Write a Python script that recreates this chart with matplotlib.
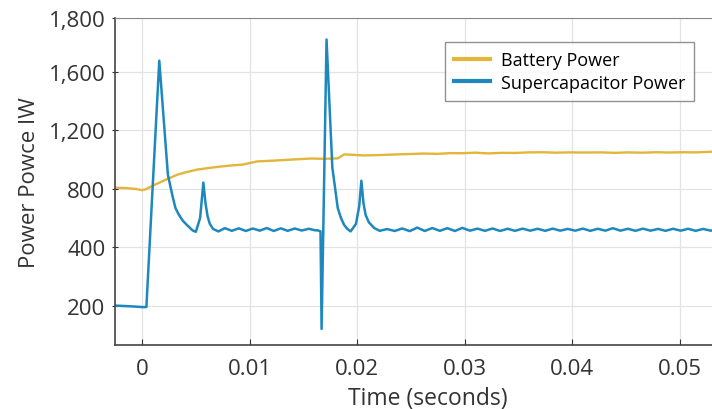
import matplotlib
matplotlib.use("Agg")
import matplotlib.pyplot as plt

# y axis is linear; tick labels are the (odd) labels printed on the source chart
Y_TICKS = [0, 400, 800, 1200, 1600, 1970]
Y_LABELS = ["200", "400", "800", "1,200", "1,600", "1,800"]
X_TICKS = [0, 0.01, 0.02, 0.03, 0.04, 0.05]
X_LABELS = ["0", "0.01", "0.02", "0.03", "0.04", "0.05"]

batt_t = [-0.0025, -0.0015, -0.0005, 0.0, 0.0003, 0.001, 0.002, 0.0033, 0.0042, 0.0051,
          0.0062, 0.0073, 0.0084, 0.0094, 0.0107, 0.0126, 0.0140, 0.0157, 0.0170, 0.0182,
          0.0188, 0.0197, 0.0206, 0.0218, 0.0229, 0.0240, 0.0250, 0.0262, 0.0275, 0.0287,
          0.0297, 0.0310, 0.0322, 0.0335, 0.0347, 0.0359, 0.0372, 0.0385, 0.0398, 0.0410,
          0.0427, 0.0440, 0.0452, 0.0465, 0.0478, 0.0490, 0.0503, 0.0515, 0.0525, 0.0535]
batt_p = [807, 805, 798, 790, 795, 821, 855, 897, 915, 931,
          942, 952, 960, 966, 987, 994, 1000, 1007, 1005, 1008,
          1035, 1032, 1028, 1030, 1033, 1036, 1038, 1041, 1039, 1044,
          1043, 1047, 1042, 1046, 1045, 1049, 1050, 1047, 1049, 1048,
          1049, 1046, 1049, 1047, 1050, 1048, 1050, 1049, 1052, 1055]

sc_t = [-0.0025, -0.001, 0.0, 0.0004, 0.0016, 0.0024, 0.0028, 0.0031, 0.0034, 0.0038,
        0.0042, 0.0047, 0.0050, 0.0054, 0.0057, 0.0059, 0.0061, 0.0063, 0.0066, 0.0071,
        0.0077, 0.00835, 0.0090, 0.00965, 0.0103, 0.01095, 0.0116, 0.01225, 0.0129,
        0.01355, 0.0142, 0.01485, 0.0155, 0.01615, 0.0163,
        0.0166, 0.0167, 0.01716, 0.0177, 0.0180, 0.0182, 0.0185, 0.0188, 0.0191, 0.0194,
        0.0199, 0.0202, 0.0204, 0.0206, 0.0208, 0.0211, 0.0216, 0.0221,
        0.0228, 0.0235, 0.0242, 0.0249, 0.0256, 0.0263, 0.0270, 0.0277, 0.0284, 0.0291,
        0.0298, 0.0305, 0.0312, 0.0319, 0.0326, 0.0333, 0.0340, 0.0347, 0.0354, 0.0361,
        0.0368, 0.0375, 0.0382, 0.0389, 0.0396, 0.0403, 0.0410, 0.0417, 0.0424, 0.0431,
        0.0438, 0.0445, 0.0452, 0.0459, 0.0466, 0.0473, 0.0480, 0.0487, 0.0494, 0.0501,
        0.0508, 0.0515, 0.0522, 0.0529, 0.0535]
sc_p = [0, -5, -10, -10, 1677, 897, 760, 669, 625, 580,
        550, 515, 505, 600, 842, 700, 610, 560, 525, 508,
        530, 512, 529, 511, 528, 513, 531, 511, 529,
        512, 528, 514, 526, 515, 516,
        508, -160, 1822, 945, 780, 669, 600, 552, 525, 508,
        560, 680, 855, 700, 620, 570, 531, 512,
        524, 511, 528, 510, 534, 511, 531, 512, 530, 511,
        532, 513, 527, 512, 528, 511, 526, 512, 527, 513,
        526, 512, 527, 513, 525, 513, 527, 512, 526, 513,
        530, 513, 526, 512, 527, 513, 525, 512, 526, 513,
        526, 512, 525, 513, 520]

plt.rcParams["font.family"] = ["Open Sans", "DejaVu Sans"]

fig = plt.figure(figsize=(7.12, 4.10), dpi=100)
ax = fig.add_axes([0.1615, 0.156, 0.845, 0.798])

ax.plot(batt_t, batt_p, color="#E3B53B", lw=1.7, label="Battery Power")
ax.plot(sc_t, sc_p, color="#1E88BE", lw=1.8, label="Supercapacitor Power")

ax.set_xlim(-0.00252, 0.05345)
ax.set_ylim(-270, 1970)
ax.set_xticks(X_TICKS)
ax.set_xticklabels(X_LABELS)
ax.set_yticks(Y_TICKS)
ax.set_yticklabels(Y_LABELS)
ax.tick_params(axis="both", labelsize=16, colors="#333333", length=4)
ax.tick_params(axis="x", direction="in", pad=9)
ax.tick_params(axis="y", direction="inout", pad=5)
ax.grid(color="#e3e3e3", lw=0.9)
ax.set_axisbelow(True)

for side in ("left", "bottom"):
    ax.spines[side].set_color("#444444")
    ax.spines[side].set_linewidth(1.2)
ax.spines["top"].set_color("#888888")
ax.spines["right"].set_visible(False)

ax.set_xlabel("Time (seconds)", fontsize=16.5, color="#333333")
ax.xaxis.set_label_coords(0.52, -0.125)
ax.set_ylabel("Power Powce IW", fontsize=16, color="#333333", labelpad=6)

leg = ax.legend(loc="upper right", bbox_to_anchor=(0.975, 0.895),
                bbox_transform=fig.transFigure, fontsize=13, frameon=True,
                fancybox=False, edgecolor="#777777", handlelength=2.0,
                borderpad=0.5, labelspacing=0.25, handletextpad=0.6,
                borderaxespad=0)
leg.get_frame().set_linewidth(1.0)
for line in leg.get_lines():
    line.set_linewidth(3)

fig.savefig("out.png", dpi=100)
